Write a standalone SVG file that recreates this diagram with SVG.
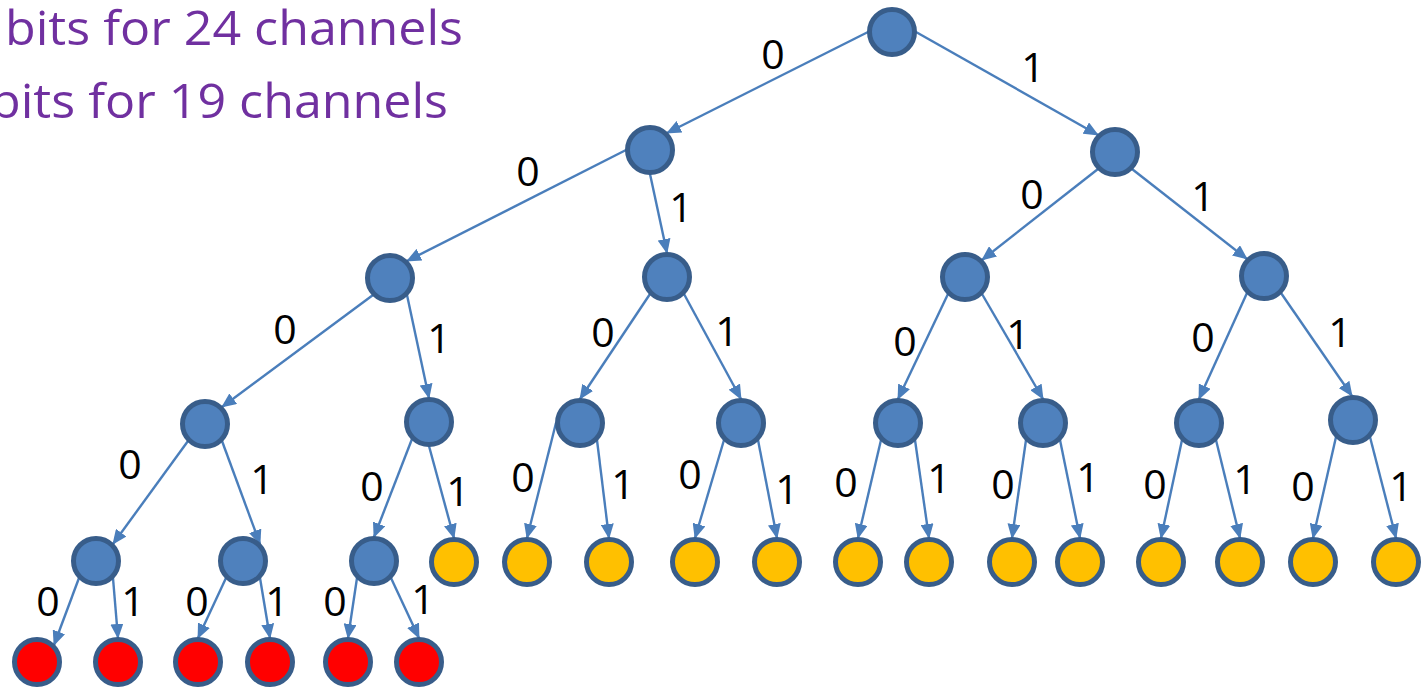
<svg xmlns="http://www.w3.org/2000/svg" width="1421" height="687" viewBox="0 0 1421 687">
<style>
.n circle{stroke:#385D8A;stroke-width:5}
.b circle{fill:#4F81BD}
.y circle{fill:#FFC000}
.r circle{fill:#FF0000}
#edges line{stroke:#4A7EBB;stroke-width:2.4;marker-end:url(#ah)}
.lbl{font-family:"Open Sans","Liberation Sans",sans-serif;font-size:41px;fill:#000;text-anchor:middle}
.title{font-family:"Open Sans","Liberation Sans",sans-serif;font-size:48px;fill:#7030A0}
</style>
<defs>
<marker id="ah" viewBox="0 0 15 13" markerWidth="15" markerHeight="13" refX="14" refY="6.5" orient="auto" markerUnits="userSpaceOnUse">
<path d="M0,0 L15,6.5 L0,13 z" fill="#4A7EBB"/>
</marker>
</defs>
<rect width="1421" height="687" fill="#fff"/>
<g id="title">
<text class="title" x="5" y="45" textLength="458" lengthAdjust="spacingAndGlyphs">bits for 24 channels</text>
<text class="title" x="-10" y="118" textLength="458" lengthAdjust="spacingAndGlyphs">bits for 19 channels</text>
</g>
<g id="edges">
<line x1="868" y1="32" x2="667" y2="133"/>
<line x1="916" y1="32" x2="1098" y2="135"/>
<line x1="626" y1="150" x2="407" y2="261"/>
<line x1="650" y1="174" x2="667" y2="253"/>
<line x1="1098" y1="169" x2="982" y2="260"/>
<line x1="1132" y1="169" x2="1247" y2="259"/>
<line x1="373" y1="295" x2="222" y2="407"/>
<line x1="407" y1="295" x2="429" y2="398"/>
<line x1="650" y1="294" x2="580" y2="399"/>
<line x1="684" y1="294" x2="741" y2="399"/>
<line x1="948" y1="294" x2="898" y2="399"/>
<line x1="982" y1="294" x2="1043" y2="399"/>
<line x1="1247" y1="293" x2="1199" y2="399"/>
<line x1="1281" y1="293" x2="1352" y2="396"/>
<line x1="188" y1="441" x2="113" y2="544"/>
<line x1="222" y1="441" x2="260" y2="544"/>
<line x1="412" y1="439" x2="374" y2="537"/>
<line x1="429" y1="446" x2="454" y2="538"/>
<line x1="556" y1="423" x2="527" y2="538"/>
<line x1="597" y1="440" x2="609" y2="538"/>
<line x1="724" y1="440" x2="695" y2="538"/>
<line x1="758" y1="440" x2="777" y2="538"/>
<line x1="881" y1="440" x2="858" y2="538"/>
<line x1="915" y1="440" x2="929" y2="538"/>
<line x1="1026" y1="440" x2="1012" y2="538"/>
<line x1="1060" y1="440" x2="1080" y2="538"/>
<line x1="1182" y1="440" x2="1161" y2="538"/>
<line x1="1216" y1="440" x2="1240" y2="538"/>
<line x1="1336" y1="437" x2="1313" y2="538"/>
<line x1="1370" y1="437" x2="1396" y2="538"/>
<line x1="79" y1="578" x2="54" y2="645"/>
<line x1="113" y1="578" x2="118" y2="638"/>
<line x1="226" y1="578" x2="198" y2="638"/>
<line x1="260" y1="578" x2="270" y2="638"/>
<line x1="357" y1="578" x2="348" y2="638"/>
<line x1="391" y1="578" x2="419" y2="638"/>
</g>
<g id="labels">
<text class="lbl" x="773" y="69">0</text><text class="lbl" x="1033" y="82">1</text>
<text class="lbl" x="528" y="186">0</text><text class="lbl" x="681" y="222">1</text>
<text class="lbl" x="1032" y="209">0</text><text class="lbl" x="1203" y="211">1</text>
<text class="lbl" x="285" y="344">0</text><text class="lbl" x="439" y="353">1</text>
<text class="lbl" x="603" y="347">0</text><text class="lbl" x="727" y="346">1</text>
<text class="lbl" x="905" y="356">0</text><text class="lbl" x="1018" y="349">1</text>
<text class="lbl" x="1203" y="352">0</text><text class="lbl" x="1340" y="347">1</text>
<text class="lbl" x="130" y="479">0</text><text class="lbl" x="262" y="494">1</text>
<text class="lbl" x="372" y="501">0</text><text class="lbl" x="458" y="506">1</text>
<text class="lbl" x="523" y="492">0</text><text class="lbl" x="623" y="499">1</text>
<text class="lbl" x="690" y="489">0</text><text class="lbl" x="787" y="504">1</text>
<text class="lbl" x="846" y="497">0</text><text class="lbl" x="939" y="493">1</text>
<text class="lbl" x="1003" y="499">0</text><text class="lbl" x="1088" y="492">1</text>
<text class="lbl" x="1155" y="499">0</text><text class="lbl" x="1245" y="494">1</text>
<text class="lbl" x="1303" y="501">0</text><text class="lbl" x="1401" y="501">1</text>
<text class="lbl" x="48" y="616">0</text><text class="lbl" x="133" y="616">1</text>
<text class="lbl" x="197" y="616">0</text><text class="lbl" x="277" y="616">1</text>
<text class="lbl" x="335" y="616">0</text><text class="lbl" x="423" y="614">1</text>
</g>
<g id="root" class="n b"><circle cx="892" cy="32" r="22.5"/></g>
<g id="n0" class="n b"><circle cx="650" cy="150" r="22.5"/></g>
<g id="n1" class="n b"><circle cx="1115" cy="152" r="22.5"/></g>
<g id="n00" class="n b"><circle cx="390" cy="278" r="22.5"/></g>
<g id="n01" class="n b"><circle cx="667" cy="277" r="22.5"/></g>
<g id="n10" class="n b"><circle cx="965" cy="277" r="22.5"/></g>
<g id="n11" class="n b"><circle cx="1264" cy="276" r="22.5"/></g>
<g id="n000" class="n b"><circle cx="205" cy="424" r="22.5"/></g>
<g id="n001" class="n b"><circle cx="429" cy="422" r="22.5"/></g>
<g id="n010" class="n b"><circle cx="580" cy="423" r="22.5"/></g>
<g id="n011" class="n b"><circle cx="741" cy="423" r="22.5"/></g>
<g id="n100" class="n b"><circle cx="898" cy="423" r="22.5"/></g>
<g id="n101" class="n b"><circle cx="1043" cy="423" r="22.5"/></g>
<g id="n110" class="n b"><circle cx="1199" cy="423" r="22.5"/></g>
<g id="n111" class="n b"><circle cx="1353" cy="420" r="22.5"/></g>
<g id="n0000" class="n b"><circle cx="96" cy="561" r="22.5"/></g>
<g id="n0001" class="n b"><circle cx="243" cy="561" r="22.5"/></g>
<g id="n0010" class="n b"><circle cx="374" cy="561" r="22.5"/></g>
<g id="n0011" class="n y"><circle cx="454" cy="562" r="22.5"/></g>
<g id="n0100" class="n y"><circle cx="527" cy="562" r="22.5"/></g>
<g id="n0101" class="n y"><circle cx="609" cy="562" r="22.5"/></g>
<g id="n0110" class="n y"><circle cx="695" cy="562" r="22.5"/></g>
<g id="n0111" class="n y"><circle cx="777" cy="562" r="22.5"/></g>
<g id="n1000" class="n y"><circle cx="858" cy="562" r="22.5"/></g>
<g id="n1001" class="n y"><circle cx="929" cy="562" r="22.5"/></g>
<g id="n1010" class="n y"><circle cx="1012" cy="562" r="22.5"/></g>
<g id="n1011" class="n y"><circle cx="1080" cy="562" r="22.5"/></g>
<g id="n1100" class="n y"><circle cx="1161" cy="562" r="22.5"/></g>
<g id="n1101" class="n y"><circle cx="1240" cy="562" r="22.5"/></g>
<g id="n1110" class="n y"><circle cx="1313" cy="562" r="22.5"/></g>
<g id="n1111" class="n y"><circle cx="1396" cy="562" r="22.5"/></g>
<g id="n00000" class="n r"><circle cx="37" cy="662" r="22.5"/></g>
<g id="n00001" class="n r"><circle cx="118" cy="662" r="22.5"/></g>
<g id="n00010" class="n r"><circle cx="198" cy="662" r="22.5"/></g>
<g id="n00011" class="n r"><circle cx="270" cy="662" r="22.5"/></g>
<g id="n00100" class="n r"><circle cx="348" cy="662" r="22.5"/></g>
<g id="n00101" class="n r"><circle cx="419" cy="662" r="22.5"/></g>
</svg>
